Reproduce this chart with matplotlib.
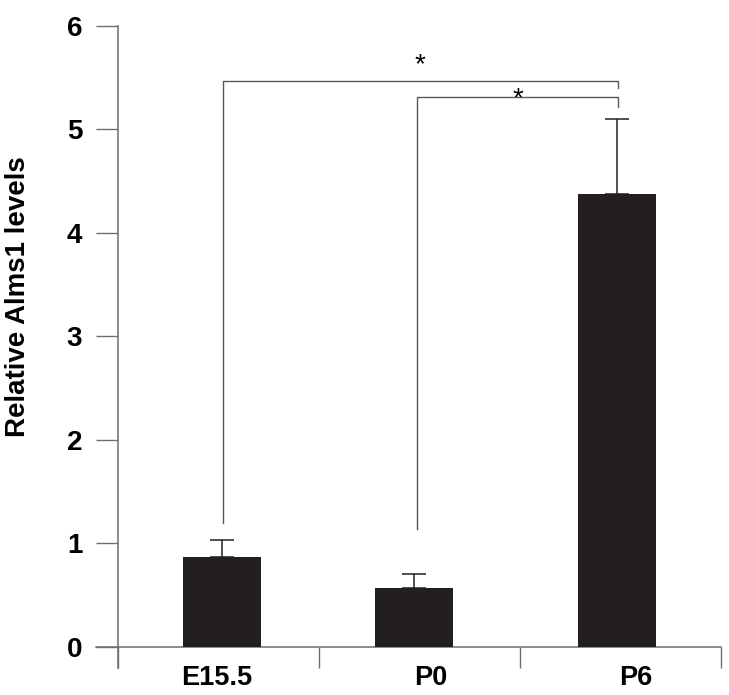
import matplotlib
matplotlib.use("Agg")
import matplotlib.pyplot as plt

categories = ["E15.5", "P0", "P6"]
values = [0.87, 0.57, 4.37]
errors = [0.16, 0.13, 0.73]
y_ticks = [0, 1, 2, 3, 4, 5, 6]
sig_label = "*"
y_label = "Relative Alms1 levels"

plt.rcParams['font.family'] = ['Liberation Sans', 'DejaVu Sans']

W, H = 729, 695
fig = plt.figure(figsize=(W / 100, H / 100), dpi=100)
px_l, px_r, px_t, px_b = 90, 725, 20, 675
ax = fig.add_axes([px_l / W, (H - px_b) / H, (px_r - px_l) / W, (px_b - px_t) / H])

# pixel -> data mapping (x: -0.5 at 118px, 201 px/unit ; y: 0 at 646.7px, 103.5 px/unit)
xs, x0 = 201.0, 118.0
ys, y0 = 103.5, 646.7
ax.set_xlim(-0.5 - (x0 - px_l) / xs, 2.5 + (px_r - 721) / xs)
ax.set_ylim(-(px_b - y0) / ys, 6 + (25.7 - px_t) / ys)

xpos = [0.017, 0.973, 1.983]
bar_color = "#231f20"
axis_color = "#6d6e71"

ax.bar(xpos, values, width=0.39, color=bar_color, zorder=3)
ax.errorbar(xpos, values, yerr=[[0] * 3, errors], fmt="none", ecolor=bar_color,
            elinewidth=1.1, capsize=8.6, capthick=1.1, zorder=2)

for s in ["top", "right"]:
    ax.spines[s].set_visible(False)
ax.spines["left"].set_position(("data", -0.5))
ax.spines["bottom"].set_position(("data", 0))
ax.spines["left"].set_bounds(-21 / ys, 6)
ax.spines["bottom"].set_bounds(-0.5 - 22 / xs, 2.5)
for s in ["left", "bottom"]:
    ax.spines[s].set_color(axis_color)
    ax.spines[s].set_linewidth(1.1)

ax.set_yticks(y_ticks)
ax.set_yticklabels([str(t) for t in y_ticks], fontsize=20, fontweight="bold")
ax.tick_params(axis="y", direction="out", length=15.8, width=1.0, color=axis_color, pad=10)
ax.set_xticks([-0.5, 0.5, 1.5, 2.5])
ax.set_xticklabels([])
ax.tick_params(axis="x", direction="out", length=15.1, width=1.0, color=axis_color)

label_off = [-0.025, 0.085, 0.095]
for i, c in enumerate(categories):
    ax.text(xpos[i] + label_off[i], -(678 - y0) / ys, c, ha="center", va="center",
            fontsize=19.5, fontweight="bold", clip_on=False)

fig.text(18 / W, 1 - 297 / H, y_label, rotation=90, ha="center", va="center",
         fontsize=20, fontweight="bold")

# significance brackets
lc = "#58595b"
lw = 1.0
# outer: E15.5 vs P6
yo = 5.466
ax.plot([xpos[0] + 0.003, xpos[0] + 0.003, xpos[2] + 0.005, xpos[2] + 0.005],
        [1.198, yo, yo, yo - 0.07], color=lc, lw=lw, zorder=4)
ax.text((xpos[0] + xpos[2]) / 2, 5.62, sig_label, ha="center", va="center", fontsize=20)
# inner: P0 vs P6
yi = 5.308
ax.plot([xpos[1] + 0.013, xpos[1] + 0.013, xpos[2] + 0.005, xpos[2] + 0.005],
        [1.137, yi, yi, yi - 0.09], color=lc, lw=lw, zorder=4)
ax.text((xpos[1] + xpos[2]) / 2 + 0.01, 5.29, sig_label, ha="center", va="center", fontsize=20)

fig.savefig("out.png", dpi=100)
